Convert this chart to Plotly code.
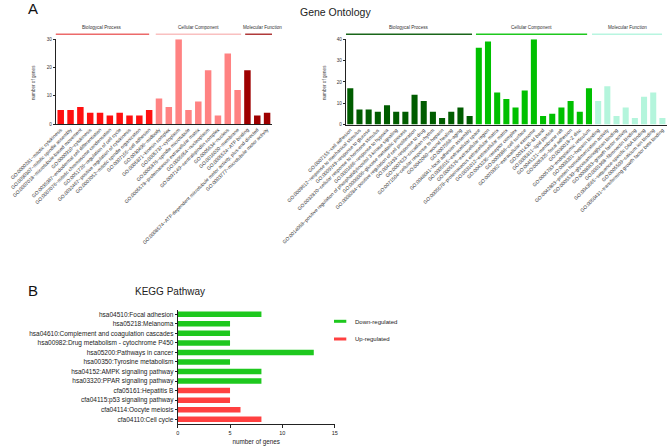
import plotly.graph_objects as go

W, H = 669, 448
FONT = "Liberation Sans, Arial, sans-serif"

# ---- Gene Ontology, red panel ----
red_bp_terms = [
    "GO:0000281~mitotic cytokinesis",
    "GO:0090307~mitotic spindle assembly",
    "GO:0007018~microtubule-based movement",
    "GO:0000910~cytokinesis",
    "GO:0035987~endodermal cell differentiation",
    "GO:0007076~mitotic chromosome condensation",
    "GO:0051726~regulation of cell cycle",
    "GO:0032467~positive regulation of cytokinesis",
    "GO:0007052~mitotic spindle organization",
    "GO:0007155~cell adhesion",
]
red_bp_counts = [5, 5, 6, 4, 4, 3, 4, 3, 3, 5]
red_cc_terms = [
    "GO:0030496~midbody",
    "GO:0005871~kinesin complex",
    "GO:0005737~cytoplasm",
    "GO:0005876~spindle microtubule",
    "GO:0005578~proteinaceous extracellular matrix",
    "GO:0005654~nucleoplasm",
    "GO:0097149~centralspindlin complex",
    "GO:0005634~nucleus",
    "GO:0016020~membrane",
]
red_cc_counts = [9, 6, 30, 5, 8, 19, 3, 25, 12]
red_mf_terms = [
    "GO:0005524~ATP binding",
    "GO:0008574~ATP-dependent microtubule motor activity, plus-end-directed",
    "GO:0003777~microtubule motor activity",
]
red_mf_counts = [19, 3, 4]

# ---- Gene Ontology, green panel ----
green_bp_terms = [
    "GO:0007155~cell adhesion",
    "GO:0009612~response to mechanical stimulus",
    "GO:0009749~response to glucose",
    "GO:0032870~cellular response to hormone stimulus",
    "GO:0001666~response to hypoxia",
    "GO:0014068~positive regulation of phosphatidylinositol 3-kinase signaling",
    "GO:0006006~glucose metabolic process",
    "GO:0008284~positive regulation of cell proliferation",
    "GO:0042493~response to drug",
    "GO:0007623~circadian rhythm",
    "GO:0071504~cellular response to heparin",
    "GO:0042060~wound healing",
    "GO:0007568~aging",
    "GO:0048041~focal adhesion assembly",
]
green_bp_counts = [17, 7, 7, 6, 9, 6, 6, 14, 11, 6, 3, 6, 8, 4]
green_cc_terms = [
    "GO:0005615~extracellular space",
    "GO:0005576~extracellular region",
    "GO:0005578~proteinaceous extracellular matrix",
    "GO:0031012~extracellular matrix",
    "GO:0043235~receptor complex",
    "GO:0009986~cell surface",
    "GO:0070062~extracellular exosome",
    "GO:0031430~M band",
    "GO:0005811~lipid particle",
    "GO:0045121~membrane raft",
    "GO:0005925~focal adhesion",
    "GO:0030018~Z disc",
    "GO:0005783~endoplasmic reticulum",
]
green_cc_counts = [36, 39, 15, 12, 8, 16, 40, 4, 5, 8, 11, 6, 17]
green_mf_terms = [
    "GO:0008201~heparin binding",
    "GO:0042803~protein homodimerization activity",
    "GO:0005539~glycosaminoglycan binding",
    "GO:0008083~growth factor activity",
    "GO:0001968~fibronectin binding",
    "GO:0043565~sequence-specific DNA binding",
    "GO:0005509~calcium ion binding",
    "GO:0050431~transforming growth factor beta binding",
]
green_mf_counts = [11, 18, 4, 8, 3, 13, 15, 3]

group_names = ["Biologycal Process", "Cellular Component", "Molecular Function"]

# ---- KEGG pathway ----
kegg_down_terms = [
    "hsa04510:Focal adhesion",
    "hsa05218:Melanoma",
    "hsa04610:Complement and coagulation cascades",
    "hsa00982:Drug metabolism - cytochrome P450",
    "hsa05200:Pathways in cancer",
    "hsa00350:Tyrosine metabolism",
    "hsa04152:AMPK signaling pathway",
    "hsa03320:PPAR signaling pathway",
]
kegg_down_counts = [8, 5, 5, 5, 13, 5, 8, 8]
kegg_up_terms = [
    "cfa05161:Hepatitis B",
    "cfa04115:p53 signaling pathway",
    "cfa04114:Oocyte meiosis",
    "cfa04110:Cell cycle",
]
kegg_up_counts = [5, 5, 6, 8]


def px(x):
    return x / W


def py(y):
    return 1 - y / H


fig = go.Figure()
shapes = []
annotations = []


def go_panel(groups, bar_colors, line_colors, xa, ya, line_pad):
    start = 0
    all_terms = []
    for (terms, counts), bc, lc, name, pad in zip(groups, bar_colors, line_colors, group_names, line_pad):
        fig.add_trace(go.Bar(x=terms, y=counts, marker=dict(color=bc, line=dict(width=0)),
                             width=0.66, xaxis=xa, yaxis=ya, showlegend=False))
        end = start + len(terms) - 1
        x0, x1 = start + pad[0], end + pad[1]
        shapes.append(dict(type="line", xref=xa, yref="paper", x0=x0, x1=x1,
                           y0=py(34.3), y1=py(34.3), line=dict(color=lc, width=1.6)))
        annotations.append(dict(text=name, xref=xa, yref="paper", x=(x0 + x1) / 2, y=py(32.3),
                                yanchor="bottom", showarrow=False, font=dict(size=4.6, color="#333")))
        all_terms += terms
        start = end + 1
    return all_terms


red_terms = go_panel(
    [(red_bp_terms, red_bp_counts), (red_cc_terms, red_cc_counts), (red_mf_terms, red_mf_counts)],
    ["#ff1010", "#ff8282", "#9e0000"],
    ["#ec6a6a", "#f9c0c0", "#b03a3a"],
    "x", "y",
    [(-0.58, 0.0), (-0.33, 0.36), (-0.23, 1.2)],
)
green_terms = go_panel(
    [(green_bp_terms, green_bp_counts), (green_cc_terms, green_cc_counts), (green_mf_terms, green_mf_counts)],
    ["#005c00", "#00c000", "#b4f5dc"],
    ["#1a661a", "#1ec81e", "#b8f5e0"],
    "x2", "y2",
    [(-0.47, 0.26), (-0.31, -0.2), (-0.67, -0.04)],
)

fig.add_trace(go.Bar(x=kegg_down_counts, y=kegg_down_terms, orientation="h", width=0.58,
                     marker=dict(color="#1ec81e", line=dict(width=0)),
                     xaxis="x3", yaxis="y3", showlegend=False))
fig.add_trace(go.Bar(x=kegg_up_counts, y=kegg_up_terms, orientation="h", width=0.58,
                     marker=dict(color="#ff4040", line=dict(width=0)),
                     xaxis="x3", yaxis="y3", showlegend=False))

tick_small = dict(size=4.9, color="#333", family=FONT)
common_x = dict(type="category", tickangle=-45, showline=True, linecolor="#222", linewidth=1,
                ticks="", tickfont=tick_small, showgrid=False, automargin=False, zeroline=False)
common_y = dict(showline=True, linecolor="#222", linewidth=1, ticks="outside", ticklen=2,
                tickcolor="#222", tickfont=dict(size=4.6, color="#333", family=FONT),
                showgrid=False, automargin=False, zeroline=False)

fig.update_layout(
    width=W, height=H,
    margin=dict(l=0, r=0, t=0, b=0),
    paper_bgcolor="white", plot_bgcolor="white",
    barmode="overlay",
    font=dict(family=FONT, color="#222"),
    showlegend=False,
    xaxis=dict(common_x, domain=[px(55.8), px(272)], anchor="y", range=[-0.5, len(red_terms) - 0.5],
               categoryorder="array", categoryarray=red_terms, tickvals=red_terms),
    yaxis=dict(common_y, domain=[py(124), py(39.3)], anchor="x", range=[0, 30], tickvals=[0, 10, 20, 30]),
    xaxis2=dict(common_x, domain=[px(345.7), px(667)], anchor="y2", range=[-0.5, len(green_terms) - 0.5],
                categoryorder="array", categoryarray=green_terms, tickvals=green_terms),
    yaxis2=dict(common_y, domain=[py(124.5), py(39.3)], anchor="x2", range=[0, 40], tickvals=[0, 10, 20, 30, 40]),
    xaxis3=dict(showline=True, linecolor="#222", linewidth=1, ticks="outside", ticklen=3, tickcolor="#222",
                domain=[px(177.7), px(334.7)], anchor="y3", range=[0, 15], tickvals=[0, 5, 10, 15],
                tickfont=dict(size=5.5, color="#222", family=FONT), showgrid=False, zeroline=False,
                automargin=False,
                title=dict(text="number of genes", font=dict(size=6.3, color="#222"), standoff=4)),
    yaxis3=dict(type="category", showline=True, linecolor="#222", linewidth=1, ticks="outside", ticklen=2,
                tickcolor="#222", domain=[py(424), py(309.5)], anchor="x3",
                categoryorder="array", categoryarray=kegg_down_terms + kegg_up_terms,
                range=[len(kegg_down_terms + kegg_up_terms) - 0.5, -0.5],
                tickfont=dict(size=6.5, color="#222", family=FONT), showgrid=False, automargin=False),
)

# titles and panel letters
annotations += [
    dict(text="A", x=px(26), y=py(8.5), xanchor="left", font=dict(size=15, color="#111")),
    dict(text="Gene Ontology", x=px(335), y=py(12.5), font=dict(size=10.5, color="#222")),
    dict(text="B", x=px(26), y=py(290.5), xanchor="left", font=dict(size=15, color="#111")),
    dict(text="KEGG Pathway", x=px(169.5), y=py(291.5), font=dict(size=10, color="#222")),
    dict(text="number of genes", x=px(33), y=py(83), textangle=-90, font=dict(size=4.6, color="#333")),
    dict(text="number of genes", x=px(324), y=py(83), textangle=-90, font=dict(size=4.6, color="#333")),
    dict(text="Down-regulated", x=px(353), y=py(321.5), xanchor="left", font=dict(size=6, color="#222")),
    dict(text="Up-regulated", x=px(353), y=py(339), xanchor="left", font=dict(size=6, color="#222")),
]
for a in annotations:
    a.setdefault("xref", "paper")
    a.setdefault("yref", "paper")
    a.setdefault("xanchor", "center")
    a.setdefault("yanchor", "middle")
    a["showarrow"] = False

# legend swatches
shapes += [
    dict(type="line", xref="paper", yref="paper", x0=px(334), x1=px(346.3), y0=py(321.3), y1=py(321.3),
         line=dict(color="#1ec81e", width=3)),
    dict(type="line", xref="paper", yref="paper", x0=px(334), x1=px(346.3), y0=py(339), y1=py(339),
         line=dict(color="#ff4040", width=3)),
]

fig.update_layout(shapes=shapes, annotations=annotations)

# drop the default body margin so the figure sits at the page's top-left corner
fig.write_html("out.html", config={"displayModeBar": False},
               post_script="document.body.style.margin='0';")
